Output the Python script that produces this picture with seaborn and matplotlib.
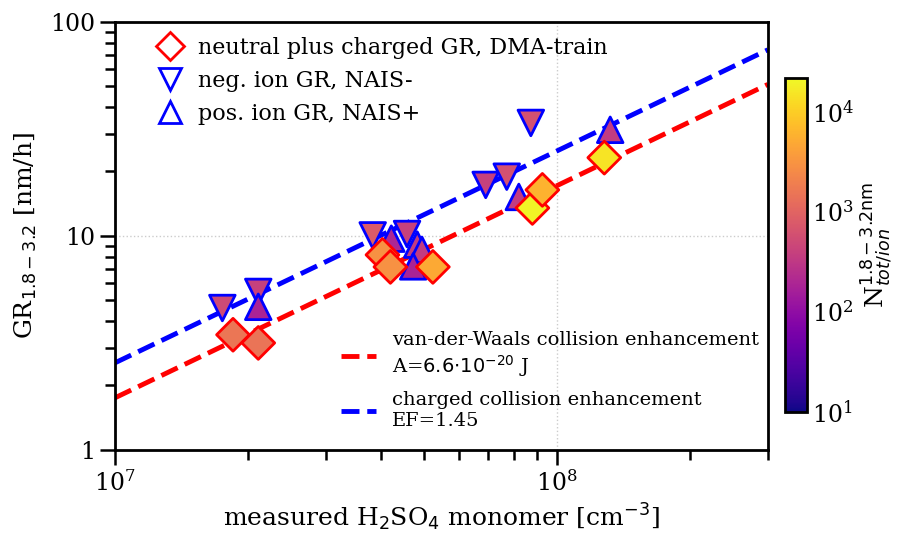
import matplotlib
matplotlib.use("Agg")
from matplotlib import pyplot as plt
from matplotlib.colors import LogNorm
from matplotlib.lines import Line2D
from matplotlib.ticker import NullFormatter, FormatStrFormatter
import seaborn as sns
import numpy as np

# neutral plus charged GR, DMA-train
dma_h2so4 = [1.85e7, 2.11e7, 4.03e7, 4.2e7, 5.24e7, 8.8e7, 9.27e7, 1.28e8]
dma_gr = [3.45, 3.16, 8.15, 7.16, 7.16, 13.5, 16.4, 23.2]
dma_n = [1.6e3, 1.5e3, 3e3, 3e3, 5e3, 2e4, 6e3, 1.5e4]

# neg. ion GR, NAIS-
neg_h2so4 = [1.75e7, 2.11e7, 3.83e7, 4.58e7, 6.9e7, 7.7e7, 8.73e7]
neg_gr = [4.6, 5.47, 10.05, 10.2, 17.3, 18.9, 33.7]
neg_n = [5e2, 4e2, 8e2, 4e2, 4e2, 6e2, 6e2]

# pos. ion GR, NAIS+
pos_h2so4 = [2.11e7, 4.22e7, 4.83e7, 4.95e7, 4.73e7, 8.2e7, 1.32e8]
pos_gr = [4.66, 9.7, 9.1, 8.6, 7.2, 15.2, 31.3]
pos_n = [1.8e2, 2e2, 3.5e2, 3.5e2, 1.8e2, 3.5e2, 3.5e2]

# model curves
model_h2so4 = [1e7, 3e8]
vdw_gr = [1.75, 51.0]
charged_gr = [2.55, 74.0]

sns.set_style("ticks", {"axes.edgecolor": "black", "xtick.color": "black",
                        "ytick.color": "black", "text.color": "black",
                        "axes.labelcolor": "black"})
plt.rcParams['font.family'] = 'DejaVu Serif'
plt.rcParams['mathtext.fontset'] = 'dejavusans'

norm = LogNorm(vmin=10, vmax=2.2e4)

fig = plt.figure(figsize=(8.98, 5.33), dpi=100)
ax = fig.add_axes([0.128, 0.156, 0.727, 0.803])
cax = fig.add_axes([0.874, 0.227, 0.025, 0.627])

sns.lineplot(x=model_h2so4, y=vdw_gr, ax=ax, color='red', lw=3.5, ls='--', zorder=1)
sns.lineplot(x=model_h2so4, y=charged_gr, ax=ax, color='blue', lw=3.5, ls='--', zorder=1)

sns.scatterplot(x=neg_h2so4, y=neg_gr, hue=neg_n, hue_norm=norm, palette='plasma',
                marker='v', s=340, edgecolor='blue', linewidth=2, legend=False, ax=ax, zorder=3)
sns.scatterplot(x=pos_h2so4, y=pos_gr, hue=pos_n, hue_norm=norm, palette='plasma',
                marker='^', s=340, edgecolor='blue', linewidth=2, legend=False, ax=ax, zorder=3)
sns.scatterplot(x=dma_h2so4, y=dma_gr, hue=dma_n, hue_norm=norm, palette='plasma',
                marker='D', s=280, edgecolor='red', linewidth=2, legend=False, ax=ax, zorder=4)

ax.set_xscale('log')
ax.set_yscale('log')
ax.set_xlim(1e7, 3e8)
ax.set_ylim(1, 100)
ax.yaxis.set_major_formatter(FormatStrFormatter('%g'))
ax.yaxis.set_minor_formatter(NullFormatter())
ax.xaxis.set_minor_formatter(NullFormatter())
ax.grid(True, which='major', ls=':', color='#cccccc', lw=1)
for sp in ax.spines.values():
    sp.set_linewidth(2)
ax.tick_params(which='major', length=11, width=1.8, labelsize=17)
ax.tick_params(which='minor', length=7, width=1.8)
ax.set_xlabel(r'measured H$_2$SO$_4$ monomer [cm$^{-3}$]', fontsize=18)
ax.set_ylabel(r'GR$_{1.8-3.2}$ [nm/h]', fontsize=18, labelpad=8)

mk = [Line2D([], [], ls='none', marker='D', ms=14, mfc='none', mec='red', mew=2),
      Line2D([], [], ls='none', marker='v', ms=16, mfc='none', mec='blue', mew=2),
      Line2D([], [], ls='none', marker='^', ms=16, mfc='none', mec='blue', mew=2)]
leg1 = ax.legend(mk, ['neutral plus charged GR, DMA-train', 'neg. ion GR, NAIS-', 'pos. ion GR, NAIS+'],
                 loc='upper left', bbox_to_anchor=(0.054, 0.986), frameon=False, fontsize=16,
                 labelspacing=0.5, handlelength=1.0, handletextpad=0.77,
                 borderaxespad=0.0, borderpad=0.4)
ax.add_artist(leg1)

ln = [Line2D([], [], color='red', ls='--', lw=3.5),
      Line2D([], [], color='blue', ls='--', lw=3.5)]
ax.legend(ln, ['van-der-Waals collision enhancement\nA=$6.6{\\cdot}10^{-20}$ J',
               'charged collision enhancement\nEF=1.45'],
          loc='lower left', bbox_to_anchor=(0.32, 0.006), frameon=False, fontsize=14,
          handlelength=1.8, labelspacing=0.6, handletextpad=0.8)

sm = plt.cm.ScalarMappable(norm=norm, cmap='plasma')
cb = fig.colorbar(sm, cax=cax)
cb.outline.set_linewidth(2)
cax.tick_params(which='both', direction='in', left=True, right=True, width=1.5, colors='black')
cax.tick_params(which='major', length=6, labelsize=17)
cax.tick_params(which='minor', length=4)
cb.set_label(r'N$^{1.8-3.2\mathrm{nm}}_{tot/ion}$', fontsize=18)

fig.savefig('out.png', dpi=100)
